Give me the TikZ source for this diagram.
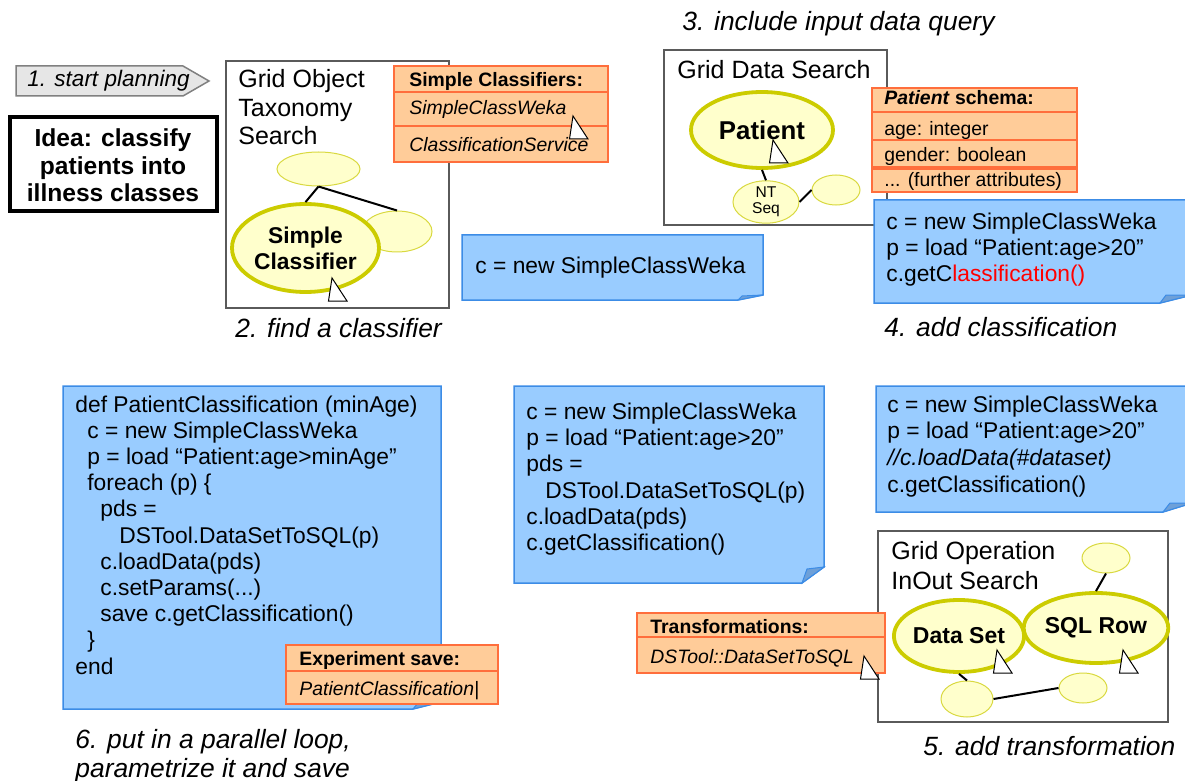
\documentclass[tikz,border=0pt]{standalone}
\usepackage{fontspec}
\setmainfont{Liberation Sans}
\usetikzlibrary{shapes.geometric}
\definecolor{notefill}{RGB}{153,204,255}
\definecolor{noteline}{RGB}{60,140,230}
\definecolor{foldfill}{RGB}{110,160,216}
\definecolor{tagfill}{RGB}{255,204,153}
\definecolor{tagline}{RGB}{255,110,60}
\definecolor{ellfill}{RGB}{255,255,204}
\definecolor{ellline}{RGB}{204,204,0}
\definecolor{boxline}{RGB}{90,90,90}
\definecolor{arrowfill}{RGB}{230,230,230}
\tikzset{
  gbox/.style={draw=boxline,line width=0.75pt,fill=white},
  note/.style={draw=noteline,line width=0.75pt,fill=notefill},
  notefold/.style={draw=noteline,line width=0.5pt,fill=foldfill},
  tag/.style={draw=tagline,line width=0.75pt,fill=tagfill},
  tagsep/.style={draw=tagline,line width=0.75pt},
  ell/.style={ellipse,draw=ellline!75,line width=0.5pt,fill=ellfill,inner sep=0pt},
  bigell/.style={ell,draw=ellline,line width=1.9pt,align=center},
  link/.style={line width=1pt},
  code/.style={anchor=base west,inner sep=0pt,font=\fontsize{11.4}{13}\selectfont},
  capt/.style={anchor=base west,inner sep=0pt,font=\fontsize{13.2}{15}\selectfont\itshape},
  boxtitle/.style={anchor=base west,inner sep=0pt,font=\fontsize{12.5}{15}\selectfont},
  tagtext/.style={anchor=base west,inner sep=0pt,font=\fontsize{9.7}{11}\selectfont},
  mousetip/.pic={\draw[fill=white,line width=0.5pt] (0,0) -- (-3.5,23) -- (15,23) -- cycle;}
}
\begin{document}
\begin{tikzpicture}[x=0.5pt,y=-0.5pt]
\useasboundingbox (0,0) rectangle (1185,781);
% 1. start
\draw[fill=arrowfill,draw=gray,line width=0.75pt] (16,66) -- (183,66) -- (209,81) -- (183,96) -- (16,96) -- cycle;
\node[anchor=base west,inner sep=0pt,font=\fontsize{11.25}{13}\selectfont\itshape] (start) at (27,87) {1. start planning};
\draw[line width=1.7pt] (10,117) rectangle (217,211);
\node[anchor=base,inner sep=0pt,font=\fontsize{12.3}{14}\selectfont\bfseries] (idea1) at (113,147) {Idea: classify};
\node[anchor=base,inner sep=0pt,font=\fontsize{12.3}{14}\selectfont\bfseries] (idea2) at (113,175) {patients into};
\node[anchor=base,inner sep=0pt,font=\fontsize{12.3}{14}\selectfont\bfseries] (idea3) at (113,202) {illness classes};
% 2. classifier
\draw[gbox] (226,61) rectangle (449,308);
\node[boxtitle] (gos1) at (238,88) {Grid Object};
\node[boxtitle] (gos2) at (238,117) {Taxonomy};
\node[boxtitle] (gos3) at (238,145) {Search};
\node[ell,minimum width=35pt,minimum height=20.5pt] (goright) at (397,231.5) {};
\node[ell,minimum width=41.5pt,minimum height=17pt] (gotop) at (318.5,169) {};
\node[bigell,minimum width=73.5pt,minimum height=44pt,font=\fontsize{11.4}{13}\selectfont\bfseries] (goclass) at (305.5,248) {Simple\\Classifier};
\draw[link] (gotop.south) -- (goclass.north);
\draw[link] (gotop.south) -- (goright.north);
\pic at (332,278) {mousetip};
\draw[tag] (394,66) rectangle (608,162);
\draw[tagsep] (394,92) -- (608,92) (394,126) -- (608,126);
\node[tagtext,font=\fontsize{9.7}{11}\selectfont\bfseries] (sch) at (409,87) {Simple Classifiers:};
\node[tagtext,font=\fontsize{9.7}{11}\selectfont\itshape] (sc1) at (409,115) {SimpleClassWeka};
\node[tagtext,font=\fontsize{9.7}{11}\selectfont\itshape] (sc2) at (409,152) {ClassificationService};
\pic at (573,116) {mousetip};
\draw[note] (462,235) -- (763,235) -- (763,295) -- (738,300) -- (462,300) -- cycle;
\draw[notefold] (738,300) -- (742,296) -- (763,295) -- cycle;
\node[code] (n2) at (475,273) {c = new SimpleClassWeka};
\node[capt] (cap2) at (235,337) {2. find a classifier};
% 3. data query
\node[capt] (cap3) at (682,31) {3. include input data query};
\draw[gbox] (664,50) rectangle (887,225);
\node[boxtitle] (gds) at (677,79) {Grid Data Search};
\node[bigell,minimum width=71pt,minimum height=38pt,font=\fontsize{12.9}{14}\selectfont\bfseries] (patient) at (762,130) {Patient};
\node[ell,minimum width=33pt,minimum height=20pt,align=center,font=\fontsize{7.8}{8}\selectfont] (ntseq) at (766,202) {NT\\Seq};
\node[ell,minimum width=24pt,minimum height=15pt] (pright) at (836,190) {};
\draw[link] (patient.south) -- (ntseq.north);
\draw[link] (ntseq.east) -- (pright.west);
\pic at (773,140) {mousetip};
\draw[tag] (872,88) rectangle (1077,192);
\draw[tagsep] (872,112) -- (1077,112) (872,140) -- (1077,140) (872,167) -- (1077,167) (872,169) -- (1077,169);
\node[tagtext,font=\fontsize{9.7}{11}\selectfont\bfseries] (psh) at (884,105) {\textit{Patient} schema:};
\node[tagtext] (ps1) at (884,136) {age: integer};
\node[tagtext] (ps2) at (884,162) {gender: boolean};
\node[tagtext] (ps3) at (884,187) {... (further attributes)};
% 4. classification
\draw[note] (874,200) -- (1192,200) -- (1192,295) -- (1160,303) -- (874,303) -- cycle;
\draw[notefold] (1160,303) -- (1166,295) -- (1192,295) -- cycle;
\node[code] (n4a) at (886,229) {c = new SimpleClassWeka};
\node[code] (n4b) at (886,255.5) {p = load “Patient:age>20”};
\node[code] (n4c) at (886,282) {c.getC\textcolor{red}{lassification()}};
\node[capt] (cap4) at (884,336) {4. add classification};
% 5. transformation
\draw[note] (514,386) -- (824,386) -- (824,567) -- (802,583) -- (514,583) -- cycle;
\draw[notefold] (802,583) -- (807,569) -- (824,567) -- cycle;
\node[code] (n5a) at (526,419) {c = new SimpleClassWeka};
\node[code] (n5b) at (526,445) {p = load “Patient:age>20”};
\node[code] (n5c) at (526,471.5) {pds =};
\node[code] (n5d) at (545,498) {DSTool.DataSetToSQL(p)};
\node[code] (n5e) at (526,524) {c.loadData(pds)};
\node[code] (n5f) at (526,550) {c.getClassification()};
\draw[note] (876,386) -- (1192,386) -- (1192,503) -- (1163,512) -- (876,512) -- cycle;
\draw[notefold] (1163,512) -- (1170,503) -- (1192,503) -- cycle;
\node[code] (n7a) at (887,412) {c = new SimpleClassWeka};
\node[code] (n7b) at (887,438) {p = load “Patient:age>20”};
\node[code,font=\fontsize{11.4}{13}\selectfont\itshape] (n7c) at (887,465) {//c.loadData(\#dataset)};
\node[code] (n7d) at (887,492) {c.getClassification()};
\draw[gbox] (878,531) rectangle (1168,722);
\node[boxtitle] (gio1) at (891,559) {Grid Operation};
\node[boxtitle] (gio2) at (891,589) {InOut Search};
\node[ell,minimum width=24pt,minimum height=15pt] (gotopr) at (1106,558) {};
\node[bigell,minimum width=63pt,minimum height=35pt,font=\fontsize{11.5}{13}\selectfont\bfseries] (sqlrow) at (1096,628) {SQL Row};
\node[bigell,minimum width=65pt,minimum height=36pt,font=\fontsize{11.5}{13}\selectfont\bfseries] (dataset) at (959,636) {Data Set};
\node[ell,minimum width=26pt,minimum height=18pt] (gobl) at (967,699) {};
\node[ell,minimum width=24pt,minimum height=15pt] (gobr) at (1083,688) {};
\draw[link] (gotopr.south) -- (sqlrow.north);
\draw[link] (dataset.south) -- (gobl.north);
\draw[link] (gobl.east) -- (gobr.west);
\pic at (997,650) {mousetip};
\pic at (1123,650) {mousetip};
\draw[tag] (637,613) rectangle (885,673);
\draw[tagsep] (637,637) -- (885,637);
\node[tagtext,font=\fontsize{9.7}{11}\selectfont\bfseries] (trh) at (650,633) {Transformations:};
\node[tagtext,font=\fontsize{9.7}{11}\selectfont\itshape] (tr1) at (650,663) {DSTool::DataSetToSQL};
\pic at (864,656) {mousetip};
\node[capt] (cap5) at (923,755) {5. add transformation};
% 6. loop
\draw[note] (63,386) -- (441,386) -- (441,702) -- (413,709) -- (63,709) -- cycle;
\draw[notefold] (413,709) -- (418,703) -- (441,702) -- cycle;
\node[code] (n6a) at (75,412) {def PatientClassification (minAge)};
\node[code] (n6b) at (87,438.2) {c = new SimpleClassWeka};
\node[code] (n6c) at (87,464.4) {p = load “Patient:age>minAge”};
\node[code] (n6d) at (87,490.6) {foreach (p) \{};
\node[code] (n6e) at (100,516.8) {pds =};
\node[code] (n6f) at (119,543) {DSTool.DataSetToSQL(p)};
\node[code] (n6g) at (100,569.2) {c.loadData(pds)};
\node[code] (n6h) at (100,595.4) {c.setParams(...)};
\node[code] (n6i) at (100,621.6) {save c.getClassification()};
\node[code] (n6j) at (87,647.8) {\}};
\node[code] (n6k) at (75,674) {end};
\draw[tag] (286,645) rectangle (498,704);
\draw[tagsep] (286,671) -- (498,671);
\node[tagtext,font=\fontsize{9.7}{11}\selectfont\bfseries] (exh) at (299,665) {Experiment save:};
\node[tagtext,font=\fontsize{9.7}{11}\selectfont\itshape] (ex1) at (299,695) {PatientClassification|};
\node[capt] (cap6a) at (75,748) {6. put in a parallel loop,};
\node[capt] (cap6b) at (75,777) {parametrize it and save};
\end{tikzpicture}
\end{document}
